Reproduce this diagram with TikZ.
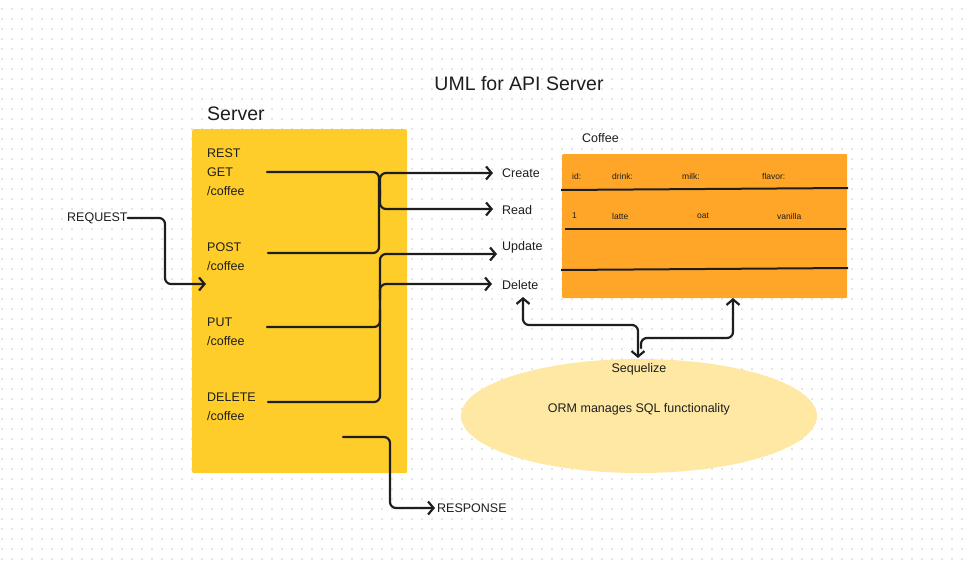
\documentclass[tikz,border=0pt]{standalone}
\usepackage{fontspec}
\setmainfont{Liberation Sans}
\usetikzlibrary{arrows.meta,shapes.geometric}
\definecolor{ink}{HTML}{1E1E1E}
\definecolor{srv}{HTML}{FFCD29}
\definecolor{org}{HTML}{FFA629}
\definecolor{ell}{HTML}{FFE8A3}
\definecolor{dotc}{HTML}{E6E6E6}
\begin{document}
\begin{tikzpicture}[x=1pt,y=-1pt,
  conn/.style={draw=ink, line width=2.2pt, rounded corners=6pt, line cap=round},
  tip/.style={-{Straight Barb[length=5.5pt,width=13pt]}},
  tiptwo/.style={{Straight Barb[length=5.5pt,width=13pt]}-{Straight Barb[length=5.5pt,width=13pt]}},
  lbl/.style={inner sep=0pt, anchor=west, text=ink, font=\fontsize{12.5}{14}\selectfont},
  small/.style={inner sep=0pt, anchor=west, text=ink, font=\fontsize{8.5}{10}\selectfont},
  big/.style={inner sep=0pt, text=ink, font=\fontsize{19.5}{22}\selectfont},
  rowline/.style={draw=ink, line width=2pt}]
\useasboundingbox (0,0) rectangle (966,560);
\fill[white] (0,0) rectangle (966,560);
\foreach \i in {0,...,96}{\foreach \j in {0,...,55}{\fill[dotc] ({1.1+10*\i},{8.1+10*\j}) rectangle ++(1.8,1.8);}}
% title
\node[big] (title) at (519,84) {UML for API Server};
% server
\node[big, anchor=west] (srvtitle) at (207,114) {Server};
\node[fill=srv, rounded corners=2pt, minimum width=215pt, minimum height=344pt, inner sep=0pt, anchor=north west] (server) at (192,129) {};
\node[lbl] (rest) at (207,153) {REST};
\node[lbl] (get) at (207,172) {GET};
\node[lbl] (getp) at (207,191) {/coffee};
\node[lbl] (post) at (207,247) {POST};
\node[lbl] (postp) at (207,266) {/coffee};
\node[lbl] (put) at (207,322) {PUT};
\node[lbl] (putp) at (207,341) {/coffee};
\node[lbl] (del) at (207,397) {DELETE};
\node[lbl] (delp) at (207,416) {/coffee};
% CRUD labels
\node[lbl] (create) at (502,173) {Create};
\node[lbl] (read) at (502,210) {Read};
\node[lbl] (update) at (502,247) {Update};
\node[lbl] (delete) at (502,285) {Delete};
% request / response
\node[lbl] (request) at (67,218) {REQUEST};
\node[lbl] (response) at (437,508) {RESPONSE};
\coordinate (reqin) at (206,284);
\draw[conn,tip] (request.east) -- (165,218) -- (165,284) -- (reqin);
\coordinate (respout) at (343,437);
\draw[conn,tip] (respout) -- (390,437) -- (390,508) -- ([xshift=-2pt]response.west);
% connectors server -> CRUD
\coordinate (g0) at (267,172);
\coordinate (p0) at (268,253);
\coordinate (u0) at (267,327);
\coordinate (d0) at (268,402);
\draw[conn] (g0) -- (379,172) -- (379,253) -- (p0);
\draw[conn,tip] (380,195) -- (380,173) -- (493,173);
\draw[conn,tip] (380,190) -- (380,209) -- (493,209);
\draw[conn,tip] (d0) -- (380,402) -- (380,254) -- (497,254);
\draw[conn] (u0) -- (380,327) -- (380,310);
\draw[conn,tip] (380,300) -- (380,284) -- (492,284);
% table
\node[lbl] (coffee) at (582,138) {Coffee};
\node[fill=org, rounded corners=1pt, minimum width=285pt, minimum height=144pt, inner sep=0pt, anchor=north west] (table) at (562,154) {};
\draw[rowline] (561,190) -- (848,188);
\draw[rowline] (565,229) -- (846,229);
\draw[rowline] (561,270) -- (848,268);
\node[small] (hid) at (572,176) {id:};
\node[small] (hdrink) at (612,176) {drink:};
\node[small] (hmilk) at (682,176) {milk:};
\node[small] (hflavor) at (762,176) {flavor:};
\node[small] (vid) at (572,216) {1};
\node[small] (vdrink) at (612,216) {latte};
\node[small] (vmilk) at (697,216) {oat};
\node[small] (vflavor) at (777,216) {vanilla};
% ellipse
\node[ellipse, fill=ell, minimum width=356pt, minimum height=114pt, inner sep=0pt] (orm) at (639,416) {};
\node[lbl, anchor=center] (seq) at (639,369) {Sequelize};
\node[lbl, anchor=center] (ormtext) at (639,409) {ORM manages SQL functionality};
\draw[conn,tiptwo] (523,297) -- (523,325) -- (638,325) -- (638,358);
\draw[conn,tip] (641,348) -- (641,338) -- (733,338) -- (733,298);
\end{tikzpicture}
\end{document}
